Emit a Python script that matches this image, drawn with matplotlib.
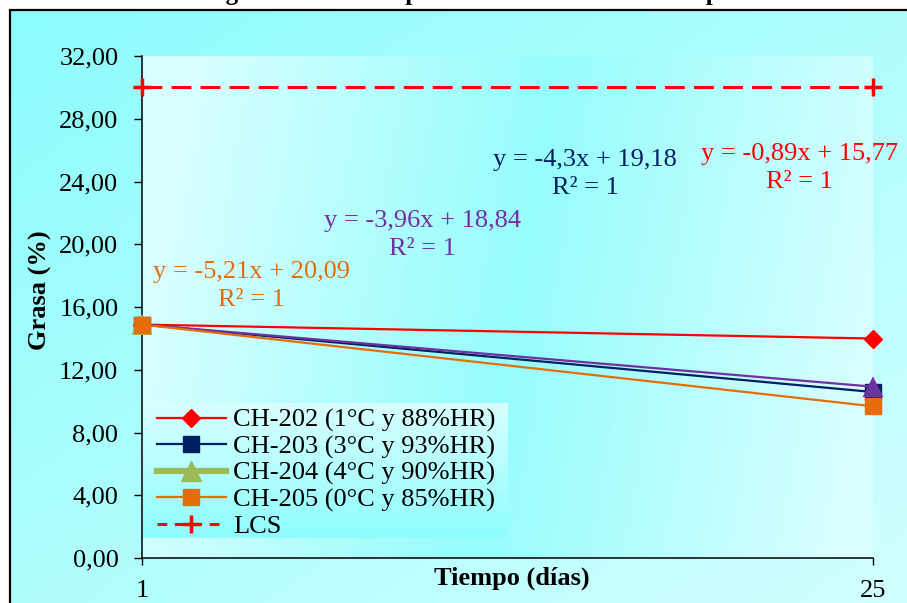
import numpy as np
import matplotlib
matplotlib.use('Agg')
import matplotlib.pyplot as plt
from matplotlib.colors import to_rgb
from matplotlib.lines import Line2D
from matplotlib.patches import Rectangle

plt.rcParams['font.family'] = ['Liberation Serif', 'DejaVu Serif']

# datos: grasa (%) al dia 1 y al dia 25
dias = ['1', '25']
ch202 = [14.88, 13.99]
ch203 = [14.88, 10.58]
ch204 = [14.88, 10.92]
ch205 = [14.88, 9.67]
lcs = [30.0, 30.0]

etiquetas = ['CH-202 (1°C y 88%HR)', 'CH-203 (3°C y 93%HR)',
             'CH-204 (4°C y 90%HR)', 'CH-205 (0°C y 85%HR)', 'LCS']

# lineas de tendencia (pendiente, intercepto, R2) en el mismo orden
pendientes = [-0.89, -4.3, -3.96, -5.21]
interceptos = [15.77, 19.18, 18.84, 20.09]
r2 = [1, 1, 1, 1]

titulo = 'Contenido de grasa durante el periodo de almacenamiento por cámara'

ROJO = '#ff0000'
AZUL = '#002060'
VERDE = '#9bbb59'
MORADO = '#7030a0'
NARANJA = '#e46c0a'
FS = 19


def degradado(nx, ny, c1, c2, f):
    u, v = np.meshgrid(np.linspace(0, 1, nx), np.linspace(1, 0, ny))
    t = np.clip(f(u, v), 0, 1)[..., None]
    return np.array(to_rgb(c1)) * (1 - t) + np.array(to_rgb(c2)) * t


fig = plt.figure(figsize=(9.07, 6.03), dpi=100, facecolor='white')

# fondo del grafico
bg = fig.add_axes([10 / 907, 0, 1 - 10 / 907, 593 / 603], zorder=-5)
bg.axis('off')
bg.imshow(degradado(200, 150, '#8cfcfc', '#d2ffff', lambda u, v: (u + (1 - v)) / 2),
          extent=[0, 1, 0, 1], aspect='auto')
fig.patches.append(Rectangle((10 / 907, -0.05), 1.2, 593 / 603 + 0.05,
                             transform=fig.transFigure, fill=False,
                             ec='black', lw=1.6, zorder=10))

fig.text(0.5, 1.0, titulo, ha='center', va='baseline',
         fontsize=18, fontweight='bold')

ax = fig.add_axes([142 / 907, 45 / 603, 731 / 907, 502 / 603], zorder=1)
ax.patch.set_visible(False)
ax.set_autoscale_on(False)
ax.imshow(degradado(200, 150, '#96fcfc', '#d8ffff',
                    lambda u, v: np.abs(u - (0.45 + 0.12 * v)) / 0.5),
          extent=[0, 1, 0, 1], transform=ax.transAxes, aspect='auto', zorder=0)

x = np.arange(len(dias))
ax.plot(x, lcs, color=ROJO, lw=2.2, dashes=(6.5, 3), marker='+', ms=13, mew=2.5,
        clip_on=False, zorder=3)
ax.plot(x, ch202, color=ROJO, lw=1.6, marker='D', ms=9, clip_on=False, zorder=4)
ax.plot(x, ch203, color=AZUL, lw=1.6, marker='s', ms=11, clip_on=False, zorder=4)
ax.plot(x, ch204, color=MORADO, lw=1.6, clip_on=False, zorder=4)
ax.scatter(x, ch204, c=[VERDE, MORADO], marker='^', s=15 ** 2, lw=0,
           clip_on=False, zorder=5)
ax.plot(x, ch205, color=NARANJA, lw=1.6, marker='s', ms=11, clip_on=False, zorder=6)

ax.set_xlim(0, 1)
ax.set_ylim(0, 32)
ax.set_xticks(x)
ax.set_xticklabels(dias)
ax.set_yticks(np.arange(0, 33, 4))
ax.set_yticklabels([f'{v:.2f}'.replace('.', ',') for v in np.arange(0, 33, 4)])
ax.tick_params(axis='y', direction='out', length=6, width=1, pad=11, labelsize=FS)
ax.tick_params(axis='x', direction='out', length=5, width=1, pad=11, labelsize=FS)
for s in ['top', 'right']:
    ax.spines[s].set_visible(False)
for s in ['left', 'bottom']:
    ax.spines[s].set_linewidth(1.1)

ax.set_xlabel('Tiempo (días)', fontsize=FS, fontweight='bold', va='center')
ax.xaxis.set_label_coords(0.506, -0.04)
ax.set_ylabel('Grasa (%)', fontsize=FS, fontweight='bold', va='center')
ax.yaxis.set_label_coords(-0.1395, 0.534)

# ecuaciones de las lineas de tendencia
colores_ec = [ROJO, AZUL, MORADO, NARANJA]
pos_ec = [(0.899, 24.86), (0.606, 24.48), (0.384, 20.59), (0.150, 17.34)]
for m, b, r, c, (px, py) in zip(pendientes, interceptos, r2, colores_ec, pos_ec):
    txt = f'y = {m:g}x + {b:g}'.replace('.', ',') + f'\nR² = {r:g}'
    ax.text(px, py, txt, color=c, fontsize=FS, ha='center', va='center',
            multialignment='center', linespacing=1.4, zorder=7)

handles = [
    Line2D([], [], color=ROJO, lw=1.6, marker='D', ms=9),
    Line2D([], [], color=AZUL, lw=1.6, marker='s', ms=11),
    Line2D([], [], color=VERDE, lw=4.5, marker='^', ms=14),
    Line2D([], [], color=NARANJA, lw=1.6, marker='s', ms=11),
    Line2D([], [], color=ROJO, lw=2.2, dashes=(3.2, 2.5), marker='+', ms=13, mew=2.5),
]
leg = ax.legend(handles, etiquetas, loc='lower left', bbox_to_anchor=(0.0, 0.011),
                fontsize=FS, frameon=False, handlelength=2.65, handletextpad=0.25,
                labelspacing=0.1, borderpad=0.45, borderaxespad=0.1)
leg.set_zorder(8)

# caja de la leyenda con degradado vertical
ax.imshow(degradado(20, 60, '#d8ffff', '#8ffcfc', lambda u, v: 1 - v),
          extent=[0.0014, 0.5007, 0.0398, 0.3068], transform=ax.transAxes,
          aspect='auto', zorder=2)

fig.savefig('out.png', dpi=100)
